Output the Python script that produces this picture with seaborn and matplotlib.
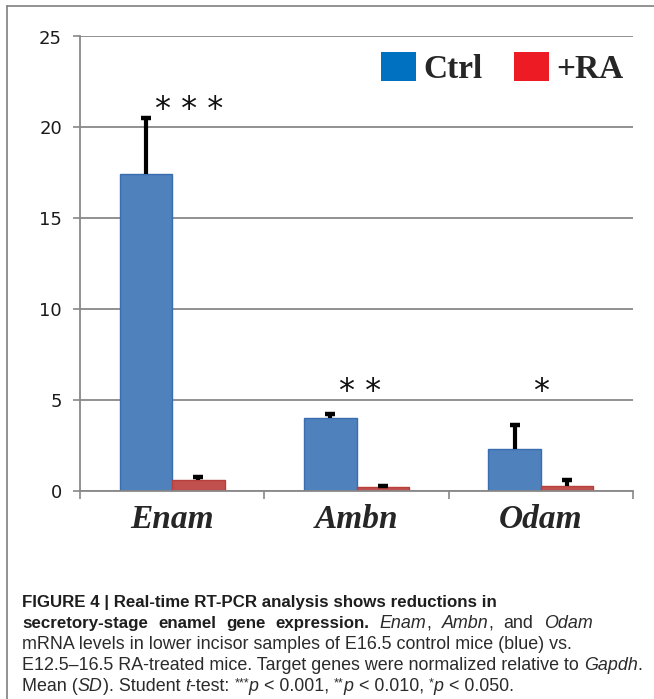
import numpy as np
import pandas as pd
import matplotlib.pyplot as plt
from matplotlib.lines import Line2D
from matplotlib.patches import Patch
import seaborn as sns

# data
genes = ['Enam', 'Ambn', 'Odam']
groups = ['Ctrl', '+RA']
ctrl_mean = [17.45, 4.0, 2.3]
ctrl_sd = [3.05, 0.22, 1.35]
ra_mean = [0.6, 0.2, 0.3]
ra_sd = [0.15, 0.05, 0.3]
stars = ['***', '**', '*']
star_x = [0.09, 1.02, 2.0]
star_y = [21.0, 5.5, 5.5]
yticks = [0, 5, 10, 15, 20, 25]

df = pd.DataFrame({
    'gene': genes * 2,
    'group': ['Ctrl'] * 3 + ['+RA'] * 3,
    'value': ctrl_mean + ra_mean,
})

W, H = 654, 699
sns.set_style('white')
fig = plt.figure(figsize=(W / 100, H / 100), dpi=100)
ax = fig.add_axes([80 / W, 208 / H, (633 - 80) / W, (491 - 36.5) / H])

bar_cols = ['#4F81BD', '#C0504D']
edge_cols = ['#3A6CB2', '#B8403C']
sns.barplot(data=df, x='gene', y='value', hue='group', hue_order=groups,
            palette=bar_cols, width=0.57, errorbar=None, legend=False,
            saturation=1, ax=ax, zorder=2)

for cont, ec, sd in zip(ax.containers, edge_cols, [ctrl_sd, ra_sd]):
    xs, tops = [], []
    for p in cont:
        p.set_edgecolor(ec)
        p.set_linewidth(1.0)
        xs.append(p.get_x() + p.get_width() / 2)
        tops.append(p.get_height())
    eb = ax.errorbar(xs, tops, yerr=[np.zeros(len(sd)), sd], fmt='none',
                     ecolor='black', elinewidth=3.0, capsize=3.8, capthick=3.2,
                     zorder=3)
    eb[1][0].set_visible(False)   # no cap at the bottom end

for x, y, s in zip(star_x, star_y, stars):
    ax.text(x, y, ' '.join(s), ha='center', va='center', fontsize=23,
            family='DejaVu Sans', color='#111111')

ax.set_ylim(0, 25)
ax.set_xlim(-0.5, 2.5)
ax.set_yticks(yticks)
ax.set_yticklabels([str(v) for v in yticks], fontsize=13,
                   family='DejaVu Sans', color='#1a1a1a')
ax.yaxis.grid(True, color='#888888', linewidth=1.3)
ax.set_axisbelow(True)
ax.tick_params(axis='y', which='major', length=5, width=1.2,
               color='#888888', pad=8, left=True)
ax.set_xticks(range(3))
ax.set_xticklabels(genes, fontsize=24, family='Liberation Serif',
                   fontweight='bold', fontstyle='italic')
ax.set_xticks([-0.5, 0.5, 1.5, 2.5], minor=True)
ax.tick_params(axis='x', which='major', length=0, pad=9)
ax.tick_params(axis='x', which='minor', length=6, width=1.2,
               color='#888888', bottom=True)
ax.set_xlabel('')
ax.set_ylabel('')
for side in ['top', 'right']:
    ax.spines[side].set_visible(False)
for side in ['left', 'bottom']:
    ax.spines[side].set_color('#888888')
    ax.spines[side].set_linewidth(1.3)

handles = [Patch(facecolor='#0070C0', edgecolor='none'),
           Patch(facecolor='#ED1C24', edgecolor='none')]
ax.legend(handles, groups, ncol=2, frameon=False, loc='upper right',
          bbox_to_anchor=(624 / W, 1 - 52 / H), bbox_transform=fig.transFigure,
          borderaxespad=0, borderpad=0, handlelength=1.06, handleheight=0.94,
          handletextpad=0.22, columnspacing=0.94,
          prop={'family': 'Liberation Serif', 'weight': 'bold', 'size': 24})

# frame round the figure
fig.add_artist(Line2D([7 / W, 1], [1 - 6 / H, 1 - 6 / H], color='#7f7f7f',
                      linewidth=1.2, transform=fig.transFigure))
fig.add_artist(Line2D([7 / W, 7 / W], [0, 1 - 6 / H], color='#7f7f7f',
                      linewidth=1.2, transform=fig.transFigure))

# caption with mixed styles
renderer = fig.canvas.get_renderer()
cap_size = 12.9
bold_size = 12.2


def seg_kw(style):
    kw = dict(fontsize=cap_size, family='Liberation Sans', color='#2b2b2b')
    if style == 'b':
        kw.update(fontweight='bold', color='#1e1e1e', fontsize=bold_size)
    elif style == 'i':
        kw.update(fontstyle='italic')
    elif style == 's':
        kw.update(fontsize=cap_size * 0.7)
    return kw


def text_width(s, kw):
    t1 = fig.text(0, 0, '|' + s + '|', **kw)
    t2 = fig.text(0, 0, '||', **kw)
    w = t1.get_window_extent(renderer).width - t2.get_window_extent(renderer).width
    t1.remove()
    t2.remove()
    return w


def draw_line(x0, base, parts, extra=0.0):
    x = x0
    for s, style in parts:
        kw = seg_kw(style)
        dy = 4 if style == 's' else 0
        if not extra:
            fig.text(x / W, 1 - (base - dy) / H, s, va='baseline', ha='left', **kw)
            x += text_width(s, kw)
            continue
        # stretched line: place word by word with wider spaces
        words = s.split(' ')
        for j, word in enumerate(words):
            if j > 0:
                x += text_width(' ', kw) + extra
            if word:
                fig.text(x / W, 1 - (base - dy) / H, word, va='baseline',
                         ha='left', **kw)
                x += text_width(word, kw)


caption = [
    [('FIGURE 4 | Real-time RT-PCR analysis shows reductions in', 'b')],
    [('secretory-stage enamel gene expression.', 'b'), (' ', 'n'), ('Enam', 'i'),
     (', ', 'n'), ('Ambn', 'i'), (', and ', 'n'), ('Odam', 'i')],
    [('mRNA levels in lower incisor samples of E16.5 control mice (blue) vs.', 'n')],
    [('E12.5\u201316.5 RA-treated mice. Target genes were normalized relative to ', 'n'),
     ('Gapdh', 'i'), ('.', 'n')],
    [('Mean (', 'n'), ('SD', 'i'), ('). Student ', 'n'), ('t', 'i'), ('-test: ', 'n'),
     ('***', 's'), ('p', 'i'), (' < 0.001, ', 'n'), ('**', 's'), ('p', 'i'),
     (' < 0.010, ', 'n'), ('*', 's'), ('p', 'i'), (' < 0.050.', 'n')],
]
line_extra = [0, 5.3, 0, 0, 0]
for i, parts in enumerate(caption):
    draw_line(22, 607.5 + i * 20.8, parts, line_extra[i])

fig.savefig('out.png', dpi=100)
